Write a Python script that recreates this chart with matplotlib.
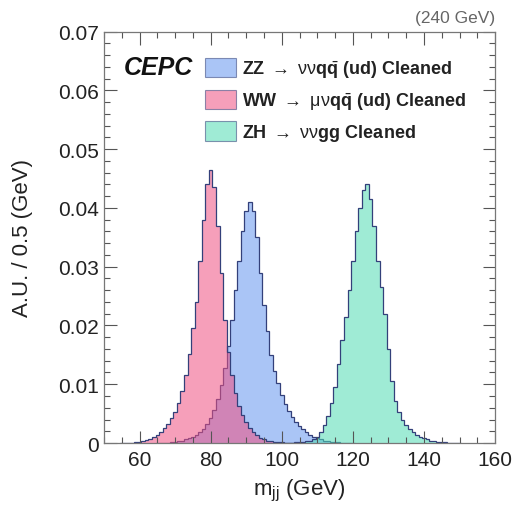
import numpy as np
import matplotlib
matplotlib.use("Agg")
import matplotlib.pyplot as plt
from matplotlib.patches import Patch
from matplotlib.ticker import MultipleLocator

plt.rcParams["font.family"] = ["Liberation Sans", "DejaVu Sans"]
plt.rcParams["mathtext.fontset"] = "custom"
plt.rcParams["mathtext.rm"] = "Liberation Sans"
plt.rcParams["mathtext.bf"] = "Liberation Sans:bold"
plt.rcParams["mathtext.it"] = "Liberation Sans:italic"

# bin contents, 1 GeV bins, first entry = centre of first bin
ww_first = 55
ww_vals = [0.00001, 0.00002, 0.00004, 0.00008, 0.00012, 0.0002, 0.0003, 0.0005, 0.0007, 0.001,
           0.0014, 0.0019, 0.0025, 0.0032, 0.0042, 0.0053, 0.0068, 0.0088, 0.0115, 0.0152,
           0.0195, 0.024, 0.031, 0.038, 0.044, 0.0465, 0.0435, 0.037, 0.029, 0.021,
           0.0155, 0.0115, 0.0085, 0.0063, 0.0047, 0.0035, 0.0026, 0.0019, 0.0013, 0.0009,
           0.0006, 0.0004, 0.0003, 0.0002, 0.00015, 0.0001, 0.00008, 0.00006, 0.00004, 0.00003,
           0.00002]

zz_first = 65
zz_vals = [0.00003, 0.00004, 0.00006, 0.00008, 0.0001, 0.00015, 0.0003, 0.0004, 0.0006, 0.0008,
           0.0011, 0.0014, 0.0018, 0.0024, 0.0032, 0.0043, 0.0057, 0.0075, 0.0098, 0.0128,
           0.0165, 0.021, 0.026, 0.031, 0.036, 0.0395, 0.041, 0.0395, 0.035, 0.029,
           0.0235, 0.019, 0.015, 0.0122, 0.0102, 0.0082, 0.0066, 0.0054, 0.0044, 0.0036,
           0.0029, 0.0023, 0.0018, 0.0014, 0.0011, 0.0008, 0.0006, 0.0004, 0.0003, 0.0002,
           0.00015, 0.0001, 0.00008, 0.00006, 0.00004, 0.00003]

zh_first = 100
zh_vals = [0.00003, 0.00004, 0.00005, 0.00007, 0.0001, 0.00013, 0.00018, 0.00026, 0.0004, 0.0006,
           0.001, 0.0018, 0.003, 0.0046, 0.0068, 0.0095, 0.0135, 0.0175, 0.0215, 0.026,
           0.031, 0.036, 0.040, 0.043, 0.044, 0.0415, 0.037, 0.031, 0.0265, 0.022,
           0.016, 0.0105, 0.0072, 0.0052, 0.0039, 0.003, 0.0023, 0.0018, 0.0014, 0.0011,
           0.0008, 0.0006, 0.0004, 0.0003, 0.0002, 0.00015, 0.0001, 0.00008, 0.00006, 0.00004,
           0.00003]

labels = [r"ZZ $\rightarrow$ $\mathrm{\nu\nu}\mathbf{q}\bar{\mathbf{q}}$ (ud) Cleaned",
          r"WW $\rightarrow$ $\mathrm{\mu\nu}\mathbf{q}\bar{\mathbf{q}}$ (ud) Cleaned",
          r"ZH $\rightarrow$ $\mathrm{\nu\nu}\mathbf{gg}$ Cleaned"]
fills = ["#6496f0", "#f05082", "#50dcb4"]
edge = "#33407a"

fig = plt.figure(figsize=(5.25, 5.06), dpi=100)
ax = fig.add_axes([0.198, 0.1225, 0.745, 0.813])

series = [(zz_first, zz_vals), (ww_first, ww_vals), (zh_first, zh_vals)]
for (first, vals), c in zip(series, fills):
    vals = np.array(vals)
    edges = np.arange(len(vals) + 1) + first - 0.5
    ax.stairs(vals, edges, fill=True, color=c, alpha=0.55, lw=0)
    ax.stairs(vals, edges, color=edge, lw=0.9)

ax.set_xlim(50, 160)
ax.set_ylim(0, 0.07)
ax.xaxis.set_major_locator(MultipleLocator(20))
ax.xaxis.set_minor_locator(MultipleLocator(5))
ax.yaxis.set_minor_locator(MultipleLocator(0.002))
ax.set_yticks(np.arange(0, 0.071, 0.01))
ax.set_yticklabels(["0"] + [f"{v:.2f}" for v in np.arange(0.01, 0.071, 0.01)])
ax.tick_params(which="both", direction="in", top=True, right=True, colors="#555",
               labelcolor="#222", labelsize=15, width=0.8)
ax.tick_params(which="major", length=9)
ax.tick_params(which="minor", length=4.5)
ax.tick_params(axis="x", pad=5)
for s in ax.spines.values():
    s.set_color("#777")
    s.set_linewidth(0.9)

ax.set_xlabel(r"m$_{\rm jj}$ (GeV)", fontsize=16, color="#222", labelpad=6)
ax.set_ylabel("A.U. / 0.5 (GeV)", fontsize=16, color="#222", labelpad=18)

ax.text(1.0, 1.015, "(240 GeV)", transform=ax.transAxes, ha="right", va="bottom",
        fontsize=12.5, color="#666")
ax.text(0.05, 0.915, "CEPC", transform=ax.transAxes, ha="left", va="center",
        fontsize=18, fontweight="bold", fontstyle="italic", color="#111")

handles = [Patch(facecolor=c, alpha=0.55, edgecolor=edge, lw=0.8) for c in fills]
leg = ax.legend(handles, labels, loc="upper left", bbox_to_anchor=(0.258, 0.935),
                frameon=False, prop={"weight": "bold", "size": 13},
                handlelength=1.75, handleheight=1.25, labelspacing=0.55,
                handletextpad=0.3, borderaxespad=0, borderpad=0)
for t in leg.get_texts():
    t.set_color("#222")

fig.savefig("out.png", dpi=100)
